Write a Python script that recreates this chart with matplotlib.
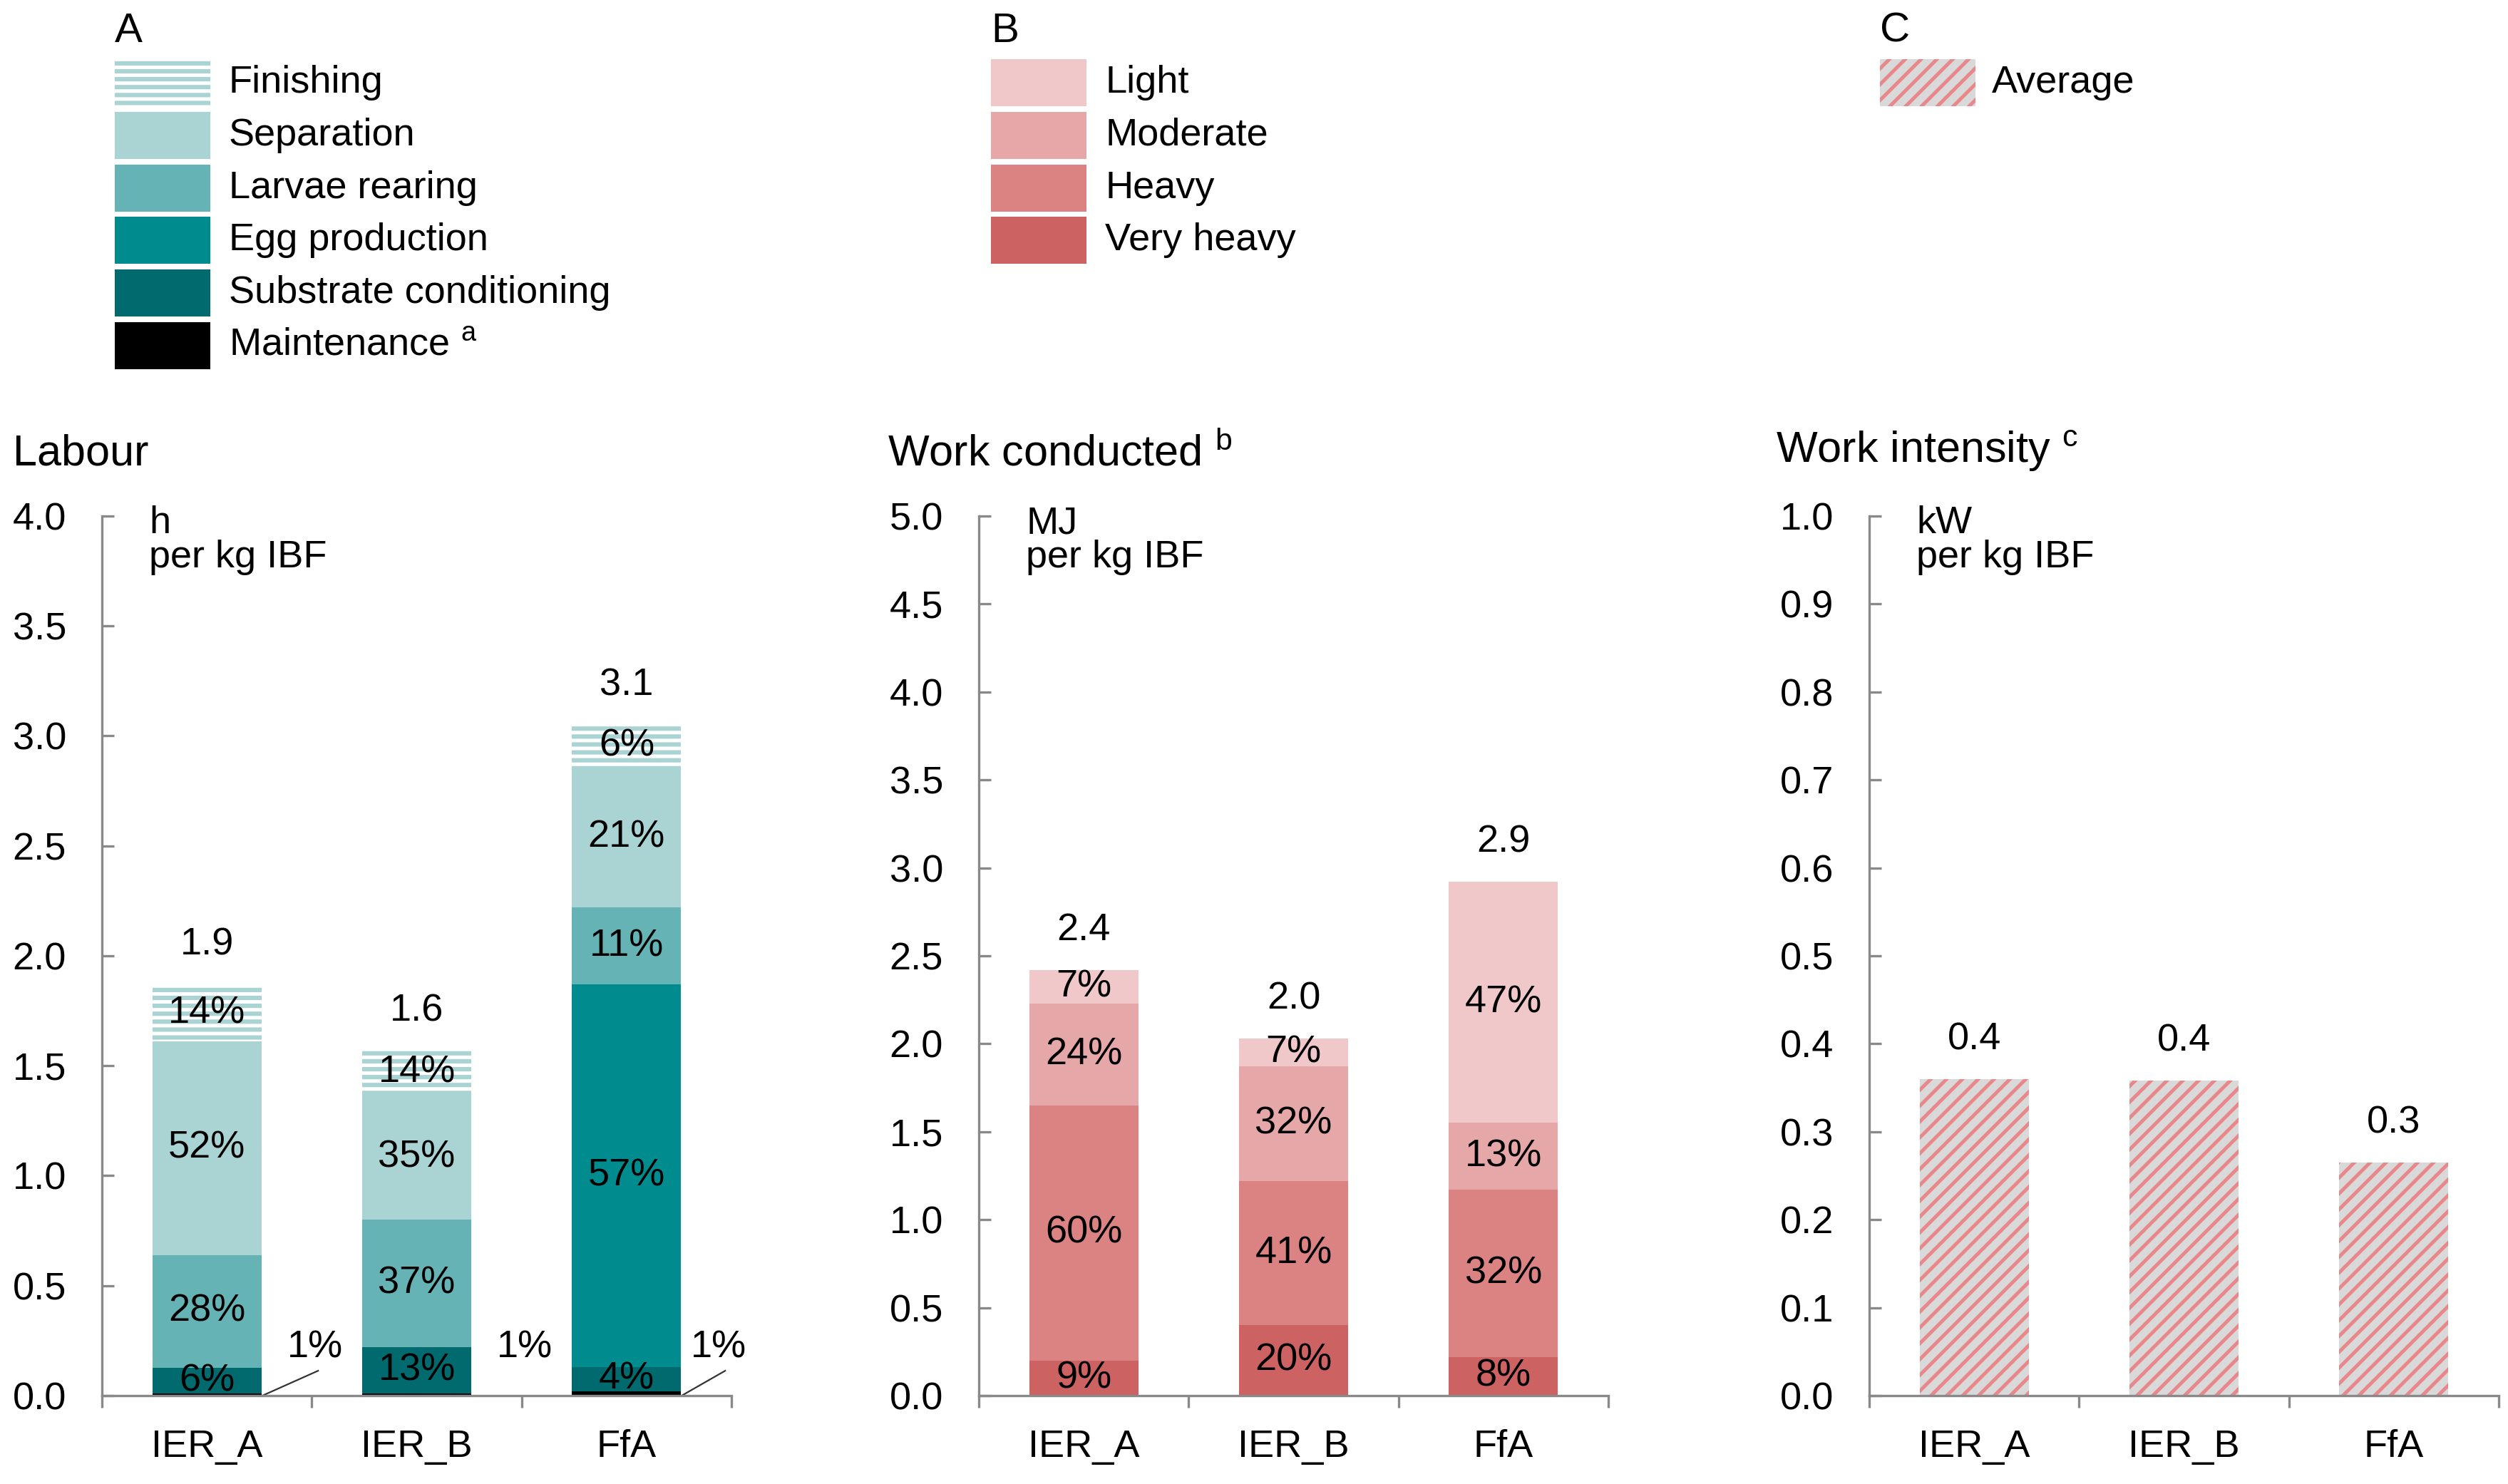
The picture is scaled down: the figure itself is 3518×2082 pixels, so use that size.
import numpy as np
import matplotlib
matplotlib.use('Agg')
import matplotlib.pyplot as plt
from matplotlib.patches import Rectangle
from matplotlib.ticker import FormatStrFormatter

plt.rcParams['font.family'] = ['Liberation Sans', 'DejaVu Sans']
plt.rcParams['mathtext.default'] = 'regular'
plt.rcParams['hatch.linewidth'] = 1.8

sites = ['IER_A', 'IER_B', 'FfA']

# Labour, h per kg IBF (stacked bottom -> top)
maintenance = [0.01, 0.01, 0.02]
substrate = [0.115, 0.21, 0.11]
egg_prod = [0.0, 0.0, 1.74]
larvae = [0.515, 0.58, 0.35]
separation = [0.97, 0.57, 0.64]
finishing = [0.26, 0.20, 0.19]
substrate_pct = ['6%', '13%', '4%']
egg_pct = ['', '', '57%']
larvae_pct = ['28%', '37%', '11%']
separation_pct = ['52%', '35%', '21%']
finishing_pct = ['14%', '14%', '6%']
maintenance_pct = ['1%', '1%', '1%']
labour_total = ['1.9', '1.6', '3.1']

# Work conducted, MJ per kg IBF
very_heavy = [0.20, 0.40, 0.22]
heavy = [1.45, 0.82, 0.95]
moderate = [0.58, 0.65, 0.38]
light = [0.19, 0.16, 1.37]
very_heavy_pct = ['9%', '20%', '8%']
heavy_pct = ['60%', '41%', '32%']
moderate_pct = ['24%', '32%', '13%']
light_pct = ['7%', '7%', '47%']
work_total = ['2.4', '2.0', '2.9']

# Work intensity, kW per kg IBF
intensity = [0.36, 0.358, 0.265]
intensity_lbl = ['0.4', '0.4', '0.3']

gray = '#898989'
fs = 19.5
bw = 0.52

c_sep = '#aad3d4'
c_larv = '#66b3b6'
c_egg = '#008c8f'
c_sub = '#006a6e'
c_light = '#f0c8c9'
c_mod = '#e6a7a8'
c_heavy = '#db8283'
c_vheavy = '#cd6263'
c_avg_bg = '#d9d9d9'
c_avg_hatch = '#e8888a'

fig = plt.figure(figsize=(17.59, 10.41), dpi=200)
ax1 = fig.add_axes([0.04065, 0.05956, 0.2510, 0.5927])
ax2 = fig.add_axes([0.3903, 0.05956, 0.2510, 0.5927])
ax3 = fig.add_axes([0.7453, 0.05956, 0.2510, 0.5927])


def style_axis(ax, ymax, step, unit):
    ax.set_xlim(-0.5, 2.5)
    ax.set_ylim(0, ymax)
    ax.set_yticks(np.arange(0, ymax + step / 2, step))
    ax.yaxis.set_major_formatter(FormatStrFormatter('%.1f'))
    ax.set_xticks(range(3))
    ax.set_xticklabels(sites)
    ax.set_xticks([-0.5, 0.5, 1.5, 2.5], minor=True)
    ax.tick_params(axis='x', which='major', length=0, pad=17, labelsize=fs)
    ax.tick_params(axis='x', which='minor', length=6, width=1.2, color=gray, direction='out')
    ax.tick_params(axis='y', direction='in', length=6, width=1.2, color=gray, pad=18, labelsize=fs)
    for s in ['top', 'right']:
        ax.spines[s].set_visible(False)
    for s in ['left', 'bottom']:
        ax.spines[s].set_color(gray)
        ax.spines[s].set_linewidth(1.2)
        ax.spines[s].set_zorder(5)
    ax.text(0.075, 1.012, unit, transform=ax.transAxes, va='top', ha='left',
            fontsize=fs, linespacing=0.95)


def stack(ax, layers):
    x = np.arange(3)
    bottom = np.zeros(3)
    for vals, pct, kw in layers:
        vals = np.array(vals)
        ax.bar(x, vals, bw, bottom=bottom, linewidth=0, **kw)
        if pct is not None:
            for i in range(3):
                if pct[i]:
                    ax.text(x[i], bottom[i] + vals[i] / 2, pct[i], ha='center', va='center',
                            fontsize=fs, zorder=6)
        bottom = bottom + vals
    return bottom


def totals(ax, tops, labels):
    for i in range(3):
        ax.annotate(labels[i], (i, tops[i]), xytext=(0, 20), textcoords='offset points',
                    ha='center', va='center', fontsize=fs)


# Labour
style_axis(ax1, 4.0, 0.5, 'h\nper kg IBF')
tops = stack(ax1, [
    (maintenance, None, dict(color='black')),
    (substrate, substrate_pct, dict(color=c_sub)),
    (egg_prod, egg_pct, dict(color=c_egg)),
    (larvae, larvae_pct, dict(color=c_larv)),
    (separation, separation_pct, dict(color=c_sep)),
    (finishing, finishing_pct, dict(facecolor=c_sep, edgecolor='white', hatch='---')),
])
totals(ax1, tops, labour_total)
ax1.plot([0.265, 0.53], [0, 0.113], color='#333333', lw=0.8)
ax1.plot([2.263, 2.47], [0, 0.113], color='#333333', lw=0.8)
for xi, lab in zip([0.515, 1.515, 2.44], maintenance_pct):
    ax1.text(xi, 0.22, lab, ha='center', va='center', fontsize=fs)

# Work conducted
style_axis(ax2, 5.0, 0.5, 'MJ\nper kg IBF')
tops = stack(ax2, [
    (very_heavy, very_heavy_pct, dict(color=c_vheavy)),
    (heavy, heavy_pct, dict(color=c_heavy)),
    (moderate, moderate_pct, dict(color=c_mod)),
    (light, light_pct, dict(color=c_light)),
])
totals(ax2, tops, work_total)

# Work intensity
style_axis(ax3, 1.0, 0.1, 'kW\nper kg IBF')
ax3.bar(range(3), intensity, bw, facecolor=c_avg_bg, edgecolor=c_avg_hatch, hatch='///', linewidth=0)
totals(ax3, intensity, intensity_lbl)

# panel titles
fig.text(0.005, 0.694, 'Labour', fontsize=22, va='center', ha='left')
fig.text(0.354, 0.694, 'Work conducted $^{b}$', fontsize=22, va='center', ha='left')
fig.text(0.708, 0.696, 'Work intensity $^{c}$', fontsize=22, va='center', ha='left')

# legends
W, H = 0.0381, 66 / 2082


def row_y(i):
    return 1 - (83 + 66 + 73.8 * i) / 2082


def legend_block(letter, px, tx, items):
    fig.text(px, 0.979, letter, fontsize=21, va='center', ha='left')
    for i, (lab, kw) in enumerate(items):
        y0 = row_y(i)
        fig.add_artist(Rectangle((px, y0), W, H, transform=fig.transFigure, linewidth=0, **kw))
        fig.text(tx, y0 + H / 2, lab, fontsize=fs, va='center', ha='left')


legend_block('A', 0.0458, 0.0912, [
    ('Finishing', dict(facecolor=c_sep, edgecolor='white', hatch='---')),
    ('Separation', dict(facecolor=c_sep)),
    ('Larvae rearing', dict(facecolor=c_larv)),
    ('Egg production', dict(facecolor=c_egg)),
    ('Substrate conditioning', dict(facecolor=c_sub)),
    ('Maintenance $^{a}$', dict(facecolor='black')),
])
legend_block('B', 0.3951, 0.4406, [
    ('Light', dict(facecolor=c_light)),
    ('Moderate', dict(facecolor=c_mod)),
    ('Heavy', dict(facecolor=c_heavy)),
    ('Very heavy', dict(facecolor=c_vheavy)),
])
legend_block('C', 0.7495, 0.7943, [
    ('Average', dict(facecolor=c_avg_bg, edgecolor=c_avg_hatch, hatch='///')),
])

plt.savefig('out.png', dpi=200)
